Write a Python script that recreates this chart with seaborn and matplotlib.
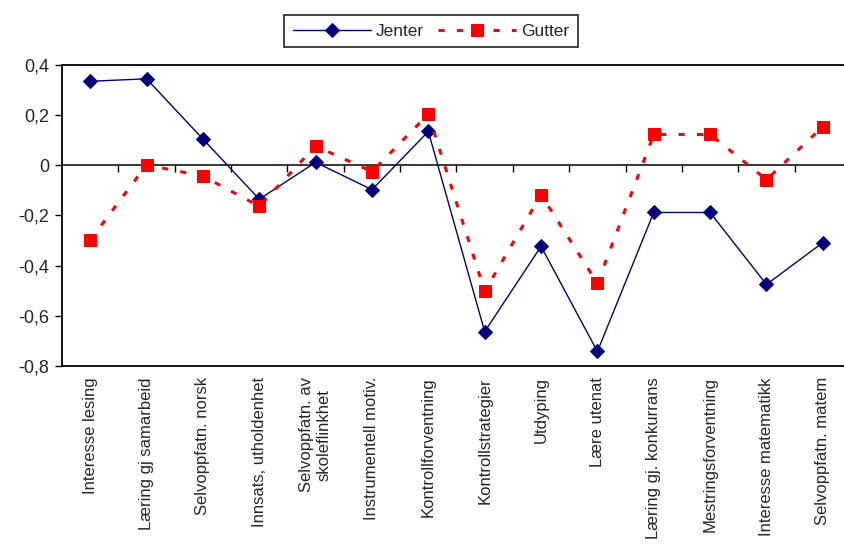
import numpy as np
import pandas as pd
import seaborn as sns
import matplotlib.pyplot as plt
from matplotlib.ticker import FuncFormatter, FixedLocator

# Chart values
categories = [
    'Interesse lesing', 'Læring gj samarbeid', 'Selvoppfatn. norsk',
    'Innsats, utholdenhet', 'Selvoppfatn. av\nskoleflinkhet', 'Instrumentell motiv.',
    'Kontrollforventning', 'Kontrollstrategier', 'Utdyping', 'Lære utenat',
    'Læring gj. konkurrans', 'Mestringsforventning', 'Interesse matematikk',
    'Selvoppfatn. matem',
]
jenter = [0.335, 0.345, 0.105, -0.135, 0.012, -0.097, 0.135, -0.663,
          -0.323, -0.742, -0.188, -0.188, -0.475, -0.308]
gutter = [-0.298, 0.002, -0.043, -0.163, 0.077, -0.025, 0.204, -0.502,
          -0.117, -0.470, 0.123, 0.123, -0.057, 0.154]
y_ticks = [-0.8, -0.6, -0.4, -0.2, 0, 0.2, 0.4]

df = pd.DataFrame({'pos': np.arange(len(categories)), 'Jenter': jenter, 'Gutter': gutter})

sns.set_style('white')
plt.rcParams['font.family'] = ['Liberation Sans', 'DejaVu Sans']

fig = plt.figure(figsize=(8.45, 5.46), dpi=100)
ax = fig.add_axes([62 / 845, 1 - 366 / 546, 789 / 845, 301 / 546])

sns.lineplot(data=df, x='pos', y='Jenter', ax=ax, color='#000080', lw=1,
             marker='D', markersize=7, markeredgecolor='#000080', label='Jenter')
sns.lineplot(data=df, x='pos', y='Gutter', ax=ax, color='#ff0000', lw=2.2,
             marker='s', markersize=8, markeredgecolor='#ff0000', label='Gutter',
             dashes=False, linestyle=(0, (2, 4)))

ax.set_xlim(-0.5, len(categories) - 0.5)
ax.set_ylim(-0.8, 0.4)
ax.set_xlabel('')
ax.set_ylabel('')

ax.set_yticks(y_ticks)
ax.yaxis.set_major_formatter(FuncFormatter(lambda v, p: ('%g' % round(v, 1)).replace('.', ',')))
ax.tick_params(axis='y', direction='out', length=5, width=1, color='black',
               labelsize=13, left=True, pad=4)

ax.set_xticks(df['pos'])
ax.set_xticklabels(categories, rotation=90, va='top', ha='center', fontsize=12,
                   multialignment='center')
ax.tick_params(axis='x', length=0, pad=8)

for side in ['left', 'bottom', 'top', 'right']:
    ax.spines[side].set_color('black')
    ax.spines[side].set_linewidth(1.3)

# zero line with tick marks between the categories, pointing down
zero_axis = ax.secondary_xaxis(0.8 / 1.2)
zero_axis.set_alignment('bottom')
zero_axis.xaxis.set_major_locator(FixedLocator(np.arange(0.5, len(categories) - 1, 1)))
zero_axis.tick_params(direction='out', length=5, width=1, color='black',
                      labelbottom=False, labeltop=False)
zero_axis.spines['bottom'].set_linewidth(1.3)

ax.get_legend().remove()
handles, labels = ax.get_legend_handles_labels()
leg = fig.legend(handles, labels, loc='center', bbox_to_anchor=(431 / 845, 1 - 31 / 546),
                 ncol=2, fontsize=12.5, frameon=True, fancybox=False, handlelength=4.5,
                 columnspacing=0.8, handletextpad=0.3, borderpad=0.5)
leg.get_frame().set_edgecolor('black')
leg.get_frame().set_linewidth(1.3)

fig.savefig('out.png', dpi=100)
